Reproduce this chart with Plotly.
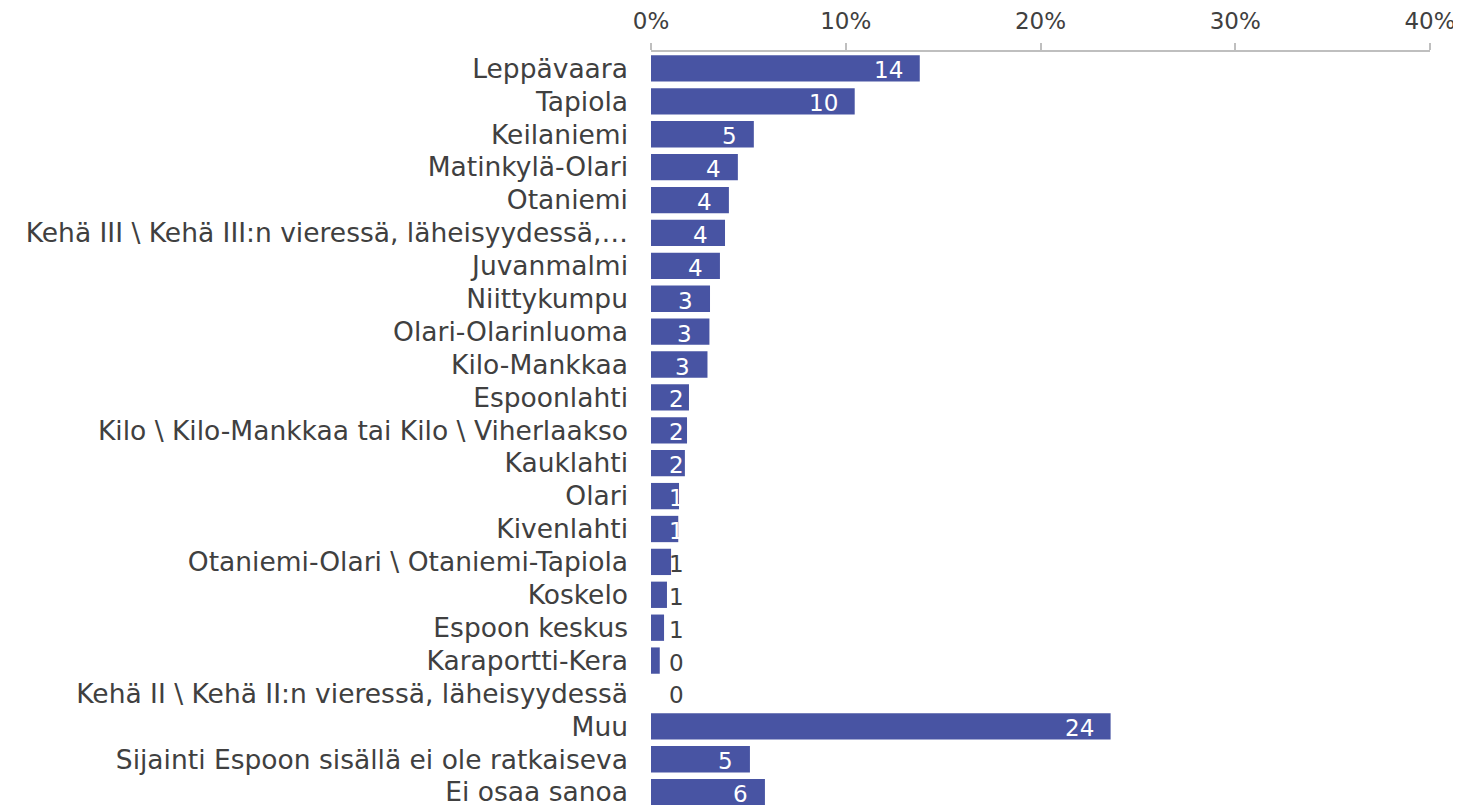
import plotly.graph_objects as go

categories = [
    "Leppävaara", "Tapiola", "Keilaniemi", "Matinkylä-Olari", "Otaniemi",
    "Kehä III \\ Kehä III:n vieressä, läheisyydessä,…", "Juvanmalmi", "Niittykumpu",
    "Olari-Olarinluoma", "Kilo-Mankkaa", "Espoonlahti",
    "Kilo \\ Kilo-Mankkaa tai Kilo \\ Viherlaakso", "Kauklahti", "Olari", "Kivenlahti",
    "Otaniemi-Olari \\ Otaniemi-Tapiola", "Koskelo", "Espoon keskus", "Karaportti-Kera",
    "Kehä II \\ Kehä II:n vieressä, läheisyydessä", "Muu",
    "Sijainti Espoon sisällä ei ole ratkaiseva", "Ei osaa sanoa",
]
values = [13.8, 10.46, 5.28, 4.46, 4.0, 3.8, 3.54, 3.03, 3.0, 2.9, 1.95, 1.85, 1.74,
          1.44, 1.4, 1.03, 0.82, 0.67, 0.45, 0.0, 23.6, 5.08, 5.85]
labels = [str(int(v + 0.5)) for v in values]
x_ticks = [0, 10, 20, 30, 40]
x_ticktext = [f"{v}%" for v in x_ticks]

FONT = "DejaVu Sans"
TXT = "#404040"
BAR = "#4854a3"
CAT_SIZE = 26.5
NUM_SIZE = 23

fig = go.Figure(go.Bar(
    y=categories, x=values, orientation="h",
    marker=dict(color=BAR, line=dict(width=0)),
    hoverinfo="x+y",
))

# data labels: inside end of bar (Excel style), clamped near the axis for short bars
for cat, v, lab in zip(categories, values, labels):
    if v >= 2.4:
        fig.add_annotation(x=v, y=cat, text=lab, showarrow=False, xanchor="right",
                           xshift=-15, yshift=-2,
                           font=dict(size=NUM_SIZE, color="white", family=FONT))
    else:
        fig.add_annotation(x=0, y=cat, text=lab, showarrow=False, xanchor="left",
                           xshift=16, yshift=-2,
                           font=dict(size=NUM_SIZE, color="white" if v >= 1.2 else TXT,
                                     family=FONT))

fig.update_layout(
    width=1453, height=797,
    margin=dict(l=643, r=31, t=44, b=0),
    paper_bgcolor="white", plot_bgcolor="white",
    font=dict(family=FONT, size=CAT_SIZE, color=TXT),
    bargap=0.2,
    showlegend=False,
    xaxis=dict(
        side="top", range=[0, 40], tickvals=x_ticks, ticktext=x_ticktext,
        showgrid=False, zeroline=False, automargin=False,
        showline=True, linecolor="#bfbfbf", linewidth=2,
        ticks="outside", ticklen=7, tickwidth=2, tickcolor="#bfbfbf",
        ticklabelstandoff=5,
        tickfont=dict(size=NUM_SIZE, color=TXT, family=FONT),
    ),
    yaxis=dict(
        range=[22.39, -0.5], showgrid=False, zeroline=False, showline=False,
        automargin=False, ticks="", ticklabelstandoff=22,
        tickfont=dict(size=CAT_SIZE, color=TXT, family=FONT),
    ),
)

fig.write_html("out.html")
